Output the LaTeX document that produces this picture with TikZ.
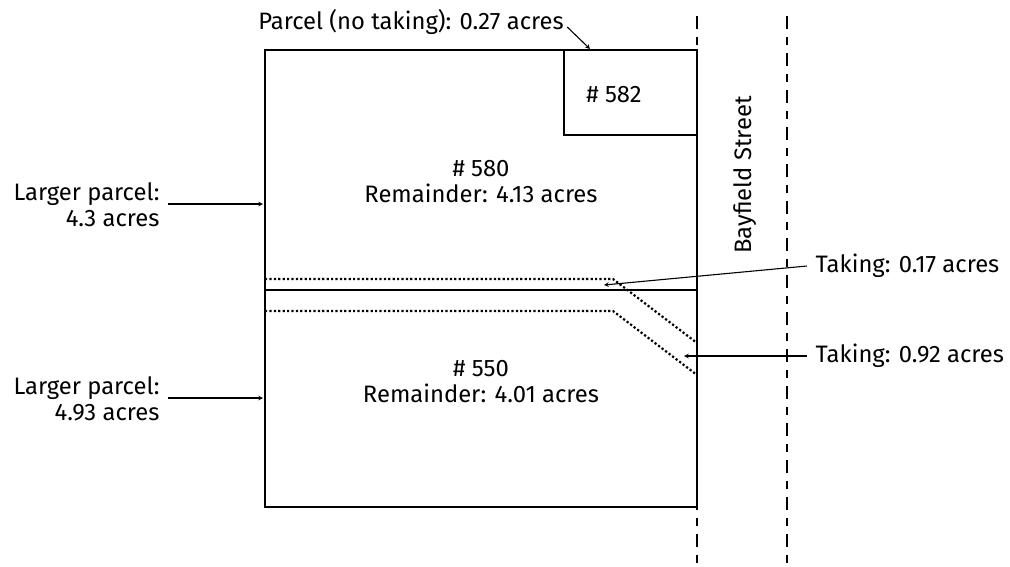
\documentclass[tikz,border=0pt]{standalone}
\usepackage{fontspec}
\setmainfont{Fira Sans}
\usetikzlibrary{arrows}

\begin{document}
\begin{tikzpicture}[x=1pt,y=-1pt,
  font=\fontsize{23.8}{26}\selectfont,
  lot/.style={line width=2.8pt},
  taking/.style={line width=2.2pt, dash pattern=on 2.2pt off 2.2pt},
  street/.style={line width=1.4pt, dash pattern=on 13pt off 8pt on 8pt off 8pt},
  leader/.style={-stealth, line width=1.1pt}]
\useasboundingbox (0,0) rectangle (1010,566);

\coordinate (nw) at (265,50);
\coordinate (se) at (697,507);
\draw[lot] (nw) rectangle (se);
\draw[lot] (265,290) -- (697,290);
\draw[lot] (564,50) |- (697,135);

\draw[taking] (265,279) -- (613,279) -- (697,343);
\draw[taking] (265,311) -- (613,311) -- (697,375);

\foreach \x in {697,787}
  \draw[street] (\x,16) -- (\x,566);

\node (p582) at (614,95) {\# 582};
\node[align=center] (p580) at (481,182) {\# 580\\Remainder: 4.13 acres};
\node[align=center] (p550) at (481,382) {\# 550\\Remainder: 4.01 acres};
\node[rotate=90] (bayfield) at (745,175) {Bayfield Street};

\node[align=right, anchor=east] (lp580) at (163,205) {Larger parcel:\\4.3 acres};
\node[align=right, anchor=east] (lp550) at (163,399) {Larger parcel:\\4.93 acres};
\node (p027) at (411,22) {Parcel (no taking): 0.27 acres};
\node[anchor=west] (t017) at (812,266) {Taking: 0.17 acres};
\node[anchor=west] (t092) at (812,356) {Taking: 0.92 acres};

\coordinate (a580) at (263,204);
\coordinate (a550) at (263,398);
\coordinate (a027) at (590,49);
\coordinate (a017) at (604,285);
\coordinate (a092) at (684,356);

\draw[leader, shorten <=5pt] (lp580.east |- a580) -- (a580);
\draw[leader, shorten <=5pt] (lp550.east |- a550) -- (a550);
\draw[leader] ([yshift=-5pt]p027.east) -- (a027);
\draw[leader] ([xshift=-5pt]t017.west) -- (a017);
\draw[leader] ([xshift=-5pt]t092.west) -- (a092);
\end{tikzpicture}
\end{document}
